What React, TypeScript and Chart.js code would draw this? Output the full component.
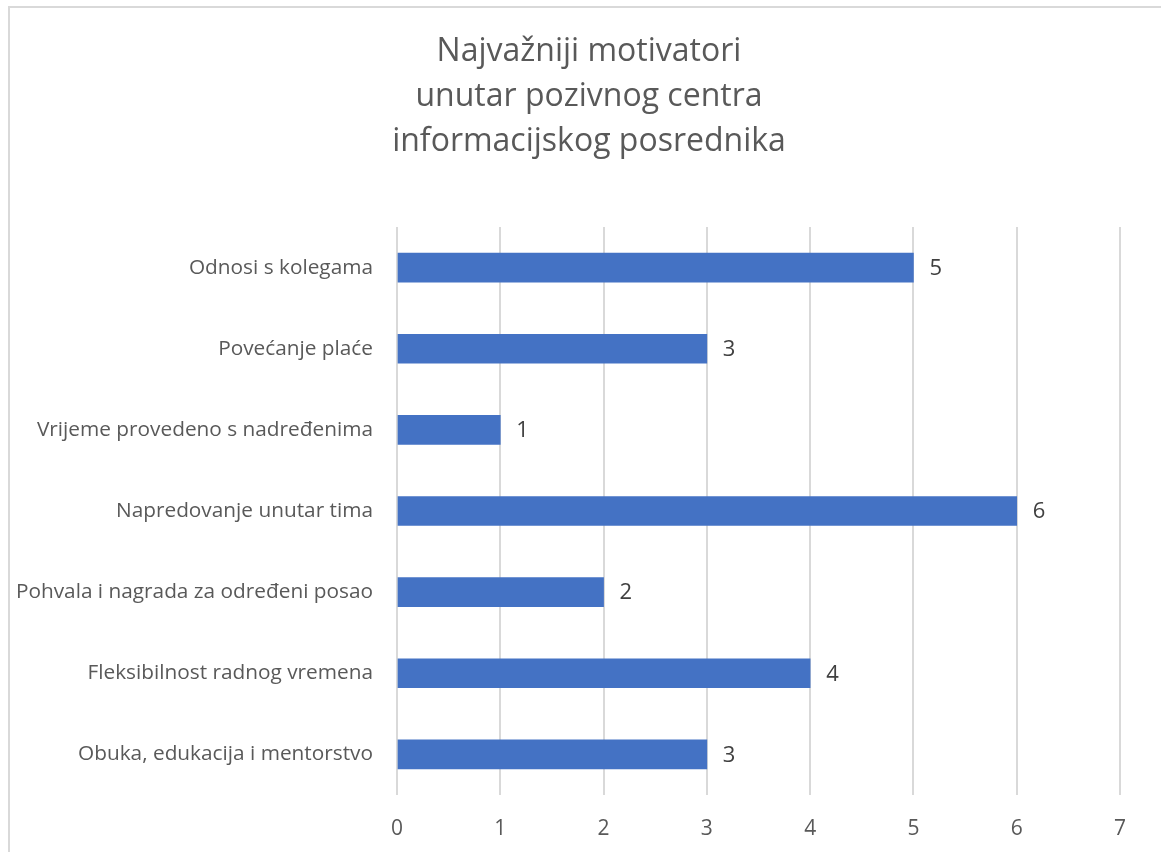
import React, { useEffect, useRef } from "react";
import { Chart, registerables } from "chart.js";

Chart.register(...registerables);

const titleLines = ["Najvažniji motivatori", "unutar pozivnog centra", "informacijskog posrednika"];
const categories = [
  "Odnosi s kolegama",
  "Povećanje plaće",
  "Vrijeme provedeno s nadređenima",
  "Napredovanje unutar tima",
  "Pohvala i nagrada za određeni posao",
  "Fleksibilnost radnog vremena",
  "Obuka, edukacija i mentorstvo",
];
const values = [5, 3, 1, 6, 2, 4, 3];
const xMin = 0;
const xMax = 7;

const FONT = "'Open Sans', 'DejaVu Sans', sans-serif";

const dataLabels = {
  id: "dataLabels",
  afterDatasetsDraw(chart: any) {
    const ctx = chart.ctx;
    const meta = chart.getDatasetMeta(0);
    ctx.save();
    ctx.font = `22px ${FONT}`;
    ctx.fillStyle = "#404040";
    ctx.textAlign = "left";
    ctx.textBaseline = "middle";
    meta.data.forEach((bar: any, i: number) => {
      ctx.fillText(String(values[i]), bar.x + 16, bar.y + 1);
    });
    ctx.restore();
  },
};

const chartTitle = {
  id: "chartTitle",
  afterDraw(chart: any) {
    const ctx = chart.ctx;
    ctx.save();
    ctx.font = `32px ${FONT}`;
    ctx.fillStyle = "#595959";
    ctx.textAlign = "center";
    ctx.textBaseline = "middle";
    titleLines.forEach((line, i) => {
      ctx.fillText(line, 579, 44 + i * 45);
    });
    ctx.restore();
  },
};

export default function App() {
  const ref = useRef<HTMLCanvasElement>(null);
  useEffect(() => {
    const chart = new Chart(ref.current!, {
      type: "bar",
      data: {
        labels: categories,
        datasets: [
          {
            data: values,
            backgroundColor: "#4472C4",
            borderWidth: 0,
            barThickness: 29,
          },
        ],
      },
      plugins: [dataLabels, chartTitle],
      options: {
        indexAxis: "y",
        animation: false,
        responsive: false,
        layout: { padding: { left: 0, right: 41, top: 219, bottom: 0 } },
        plugins: {
          legend: { display: false },
          tooltip: { enabled: false },
          title: { display: false },
        },
        scales: {
          x: {
            min: xMin,
            max: xMax,
            ticks: {
              stepSize: 1,
              color: "#595959",
              font: { family: FONT, size: 21 },
              padding: 21,
            },
            grid: { color: "#d9d9d9", lineWidth: 2, drawTicks: false },
            border: { display: false },
            afterFit: (s: any) => {
              s.height = 57;
            },
          },
          y: {
            ticks: {
              color: "#595959",
              font: { family: FONT, size: 20.8 },
              padding: 24,
            },
            grid: { display: false, drawTicks: false },
            border: { display: false },
            afterFit: (s: any) => {
              s.width = 387;
            },
          },
        },
      },
    });
    return () => chart.destroy();
  }, []);
  return (
    <div
      style={{
        position: "fixed",
        left: 8,
        top: 6,
        width: 1170,
        height: 870,
        borderTop: "2px solid #d9d9d9",
        borderLeft: "2px solid #d9d9d9",
        background: "#fff",
      }}
    >
      <canvas ref={ref} width={1151} height={844} style={{ display: "block" }} />
    </div>
  );
}
